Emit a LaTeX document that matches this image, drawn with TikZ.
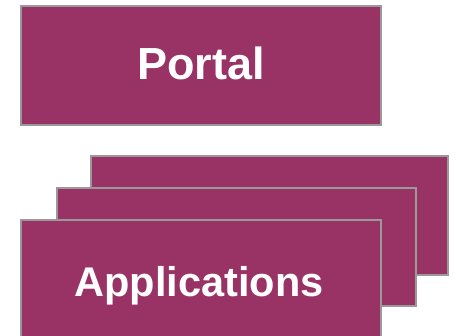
\documentclass[tikz,border=0pt]{standalone}
\usepackage{fontspec}
\setmainfont{Liberation Sans}
\definecolor{boxfill}{HTML}{993366}
\definecolor{boxline}{HTML}{999999}
\begin{document}
\begin{tikzpicture}[x=1pt,y=1pt,
  box/.style={fill=boxfill,draw=boxline,line width=2.5pt},
  lbl/.style={text=white,bfseries/.style={},anchor=base,inner sep=0pt}]
\useasboundingbox (0,0) rectangle (457,336);
\begin{scope}
\clip (0,0) rectangle (457,336);
\path[box] (21,211) rectangle (381,330);
\path[box] (91,61) rectangle (448,180);
\path[box] (57,30) rectangle (416,148);
\path[box] (21,-4) rectangle (381,116);
\end{scope}
\node[lbl,font=\fontsize{45}{50}\selectfont\bfseries] (portal) at (201,256) {Portal};
\node[lbl,font=\fontsize{41.5}{46}\selectfont\bfseries] (apps) at (199,39.5) {Applications};
\end{tikzpicture}
\end{document}
